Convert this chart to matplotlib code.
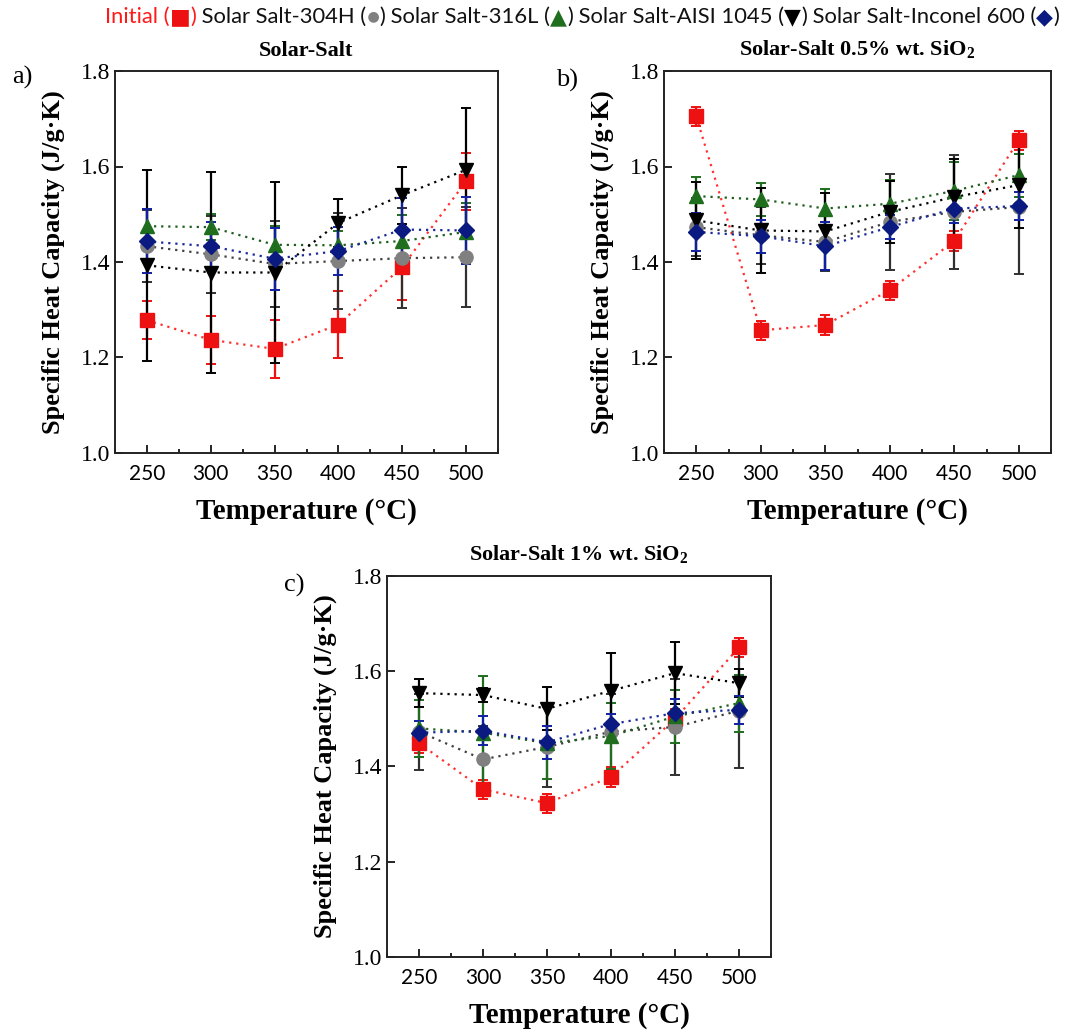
import matplotlib
matplotlib.use("Agg")
import matplotlib.pyplot as plt
from matplotlib import font_manager
from matplotlib.ticker import MultipleLocator
import numpy as np

# temperatures (degC)
temp = [250, 300, 350, 400, 450, 500]

series = ["Initial", "304H", "316L", "AISI 1045", "Inconel 600"]

# a) Solar-Salt
a_init = [1.278, 1.237, 1.218, 1.269, 1.390, 1.569]
a_init_err = [0.04, 0.05, 0.06, 0.07, 0.07, 0.06]
a_304 = [1.433, 1.416, 1.396, 1.402, 1.408, 1.410]
a_304_err = [0.075, 0.08, 0.09, 0.10, 0.105, 0.105]
a_316 = [1.475, 1.473, 1.436, 1.435, 1.444, 1.463]
a_316_err = [0.035, 0.027, 0.04, 0.03, 0.055, 0.06]
a_aisi = [1.393, 1.378, 1.378, 1.482, 1.540, 1.593]
a_aisi_err = [0.20, 0.21, 0.19, 0.05, 0.06, 0.13]
a_inc = [1.443, 1.433, 1.407, 1.423, 1.468, 1.466]
a_inc_err = [0.067, 0.05, 0.065, 0.05, 0.065, 0.07]

# b) Solar-Salt 0.5% wt. SiO2
b_init = [1.705, 1.257, 1.268, 1.341, 1.444, 1.655]
b_init_err = [0.02, 0.02, 0.02, 0.02, 0.02, 0.02]
b_304 = [1.473, 1.456, 1.442, 1.484, 1.505, 1.515]
b_304_err = [0.06, 0.06, 0.06, 0.10, 0.12, 0.14]
b_316 = [1.538, 1.531, 1.512, 1.522, 1.549, 1.582]
b_316_err = [0.04, 0.035, 0.04, 0.05, 0.06, 0.045]
b_aisi = [1.487, 1.466, 1.464, 1.505, 1.536, 1.561]
b_aisi_err = [0.08, 0.09, 0.08, 0.065, 0.08, 0.09]
b_inc = [1.463, 1.454, 1.433, 1.473, 1.512, 1.517]
b_inc_err = [0.04, 0.035, 0.05, 0.025, 0.03, 0.03]

# c) Solar-Salt 1% wt. SiO2
c_init = [1.449, 1.352, 1.323, 1.378, 1.500, 1.650]
c_init_err = [0.02, 0.02, 0.02, 0.02, 0.02, 0.02]
c_304 = [1.473, 1.415, 1.441, 1.473, 1.483, 1.517]
c_304_err = [0.08, 0.07, 0.085, 0.08, 0.10, 0.12]
c_316 = [1.480, 1.471, 1.449, 1.464, 1.505, 1.533]
c_316_err = [0.06, 0.12, 0.075, 0.07, 0.055, 0.06]
c_aisi = [1.554, 1.550, 1.521, 1.559, 1.596, 1.575]
c_aisi_err = [0.03, 0.015, 0.045, 0.08, 0.065, 0.03]
c_inc = [1.471, 1.475, 1.451, 1.489, 1.512, 1.519]
c_inc_err = [0.025, 0.03, 0.035, 0.022, 0.03, 0.03]

titles = ["Solar-Salt", "Solar-Salt 0.5% wt. SiO$_\\mathregular{2}$",
          "Solar-Salt 1% wt. SiO$_\\mathregular{2}$"]
panel_tags = ["a)", "b)", "c)"]

# marker, face colour, line colour, errorbar colour, size
styles = [
    ("s", "#ee1111", "#ff3030", "#ee1111", 9.5),
    ("o", "#808080", "#404040", "#303030", 9.5),
    ("^", "#1e6e1e", "#1e5e1e", "#1e6e1e", 10.5),
    ("v", "#000000", "#000000", "#000000", 10.5),
    ("D", "#0b1a80", "#1a2a9a", "#1020a0", 8.5),
]


def has_font(name):
    try:
        font_manager.findfont(name, fallback_to_default=False)
        return True
    except Exception:
        return False


serif = "Liberation Serif"
sans = "Liberation Sans Narrow" if has_font("Liberation Sans Narrow") else "Lato"
plt.rcParams["mathtext.fontset"] = "custom"
plt.rcParams["mathtext.rm"] = serif
plt.rcParams["mathtext.bf"] = serif + ":bold"

fig = plt.figure(figsize=(10.73, 10.31), dpi=100)
W, H = 1073.0, 1031.0


def make_ax(l, t, r, b):
    return fig.add_axes([l / W, 1 - b / H, (r - l) / W, (b - t) / H])


ax_a = make_ax(115, 71, 498, 453)
ax_b = make_ax(664, 71, 1051, 453)
ax_c = make_ax(387, 576, 771, 957)

panels = [
    (ax_a, [a_init, a_304, a_316, a_aisi, a_inc],
     [a_init_err, a_304_err, a_316_err, a_aisi_err, a_inc_err]),
    (ax_b, [b_init, b_304, b_316, b_aisi, b_inc],
     [b_init_err, b_304_err, b_316_err, b_aisi_err, b_inc_err]),
    (ax_c, [c_init, c_304, c_316, c_aisi, c_inc],
     [c_init_err, c_304_err, c_316_err, c_aisi_err, c_inc_err]),
]

for i, (ax, vals, errs) in enumerate(panels):
    for (mk, fc, lc, ec, ms), v, e in zip(styles, vals, errs):
        ax.plot(temp, v, linestyle=(0, (1, 2.2)), color=lc, lw=1.6, zorder=2)
        ax.errorbar(temp, v, yerr=e, fmt=mk, ms=ms, mfc=fc, mec=fc,
                    ecolor=ec, elinewidth=1.6, capsize=3.5, capthick=1.4,
                    zorder=3)
    ax.set_xlim(225, 525)
    ax.set_ylim(1.0, 1.8)
    ax.set_xticks(temp)
    ax.xaxis.set_minor_locator(MultipleLocator(25))
    ax.yaxis.set_major_locator(MultipleLocator(0.2))
    ax.yaxis.set_major_formatter(matplotlib.ticker.FormatStrFormatter("%.1f"))
    ax.tick_params(axis="both", which="both", direction="in", top=False, right=False)
    ax.tick_params(axis="both", which="major", length=6, width=1.2)
    ax.tick_params(axis="x", which="minor", length=3, width=1.2)
    ax.tick_params(axis="x", pad=8)
    for lab in ax.get_xticklabels():
        lab.set_fontfamily(sans)
        lab.set_fontsize(15)
    for lab in ax.get_yticklabels():
        lab.set_fontfamily(serif)
        lab.set_fontsize(17)
    for sp in ax.spines.values():
        sp.set_linewidth(1.4)
        sp.set_color("#222222")
    ax.set_title(titles[i], fontfamily=serif, fontweight="bold", fontsize=16, pad=11)
    ax.set_xlabel("Temperature (\u00b0C)", fontfamily=serif, fontweight="bold",
                  fontsize=21, labelpad=10)
    ax.set_ylabel("Specific Heat Capacity (J/g\u00b7K)", fontfamily=serif,
                  fontweight="bold", fontsize=19, labelpad=11)

fig.text(12 / W, 1 - 77 / H, "a)", fontfamily=serif, fontsize=19, va="center")
fig.text(556 / W, 1 - 80 / H, "b)", fontfamily=serif, fontsize=19, va="center")
fig.text(284 / W, 1 - 585 / H, "c)", fontfamily=serif, fontsize=19, va="center")

# legend line across the top, built from coloured pieces
pieces = [
    ("Initial (", "#ff1a1a"), ("\u25a0", "#ee1111"), (")", "#ff1a1a"),
    (" Solar Salt-304H (", "#111111"), ("\u25cf", "#808080"), (")", "#111111"),
    (" Solar Salt-316L (", "#111111"), ("\u25b2", "#1e6e1e"), (")", "#111111"),
    (" Solar Salt-AISI 1045 (", "#111111"), ("\u25bc", "#000000"), (")", "#111111"),
    (" Solar Salt-Inconel 600 (", "#111111"), ("\u25c6", "#0b1a80"), (")", "#111111"),
]
renderer = fig.canvas.get_renderer()
texts = []
for s, col in pieces:
    t = fig.text(0, 1 - 17 / H, s, color=col, fontsize=14,
                 fontfamily=[sans, "DejaVu Sans"], va="center")
    texts.append(t)
total = sum(t.get_window_extent(renderer).width for t in texts)
size = 14 * (1068.0 - 105.0) / total
x = 105.0
for t in texts:
    t.set_fontsize(size)
    t.set_x(x / W)
    x += t.get_window_extent(renderer).width

fig.savefig("out.png", dpi=100)
